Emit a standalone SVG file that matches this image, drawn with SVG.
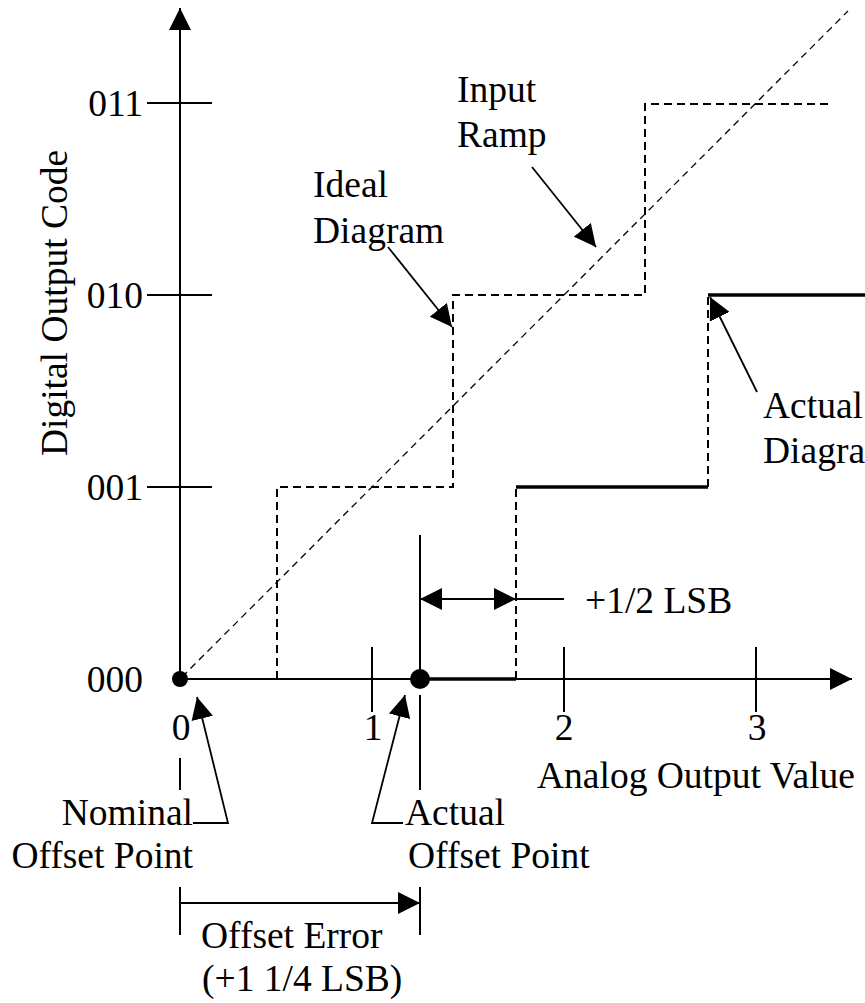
<svg xmlns="http://www.w3.org/2000/svg" width="865" height="1003" viewBox="0 0 865 1003">
<style>
text{font-family:"Liberation Serif","Times New Roman",serif;font-size:37.5px;fill:#000}
.ax{stroke:#000;stroke-width:2;fill:none}
.thin{stroke:#000;stroke-width:1.8;fill:none}
.ideal{stroke:#000;stroke-width:2;fill:none;stroke-dasharray:8 5}
.ramp{stroke:#000;stroke-width:1.3;fill:none;stroke-dasharray:7 5}
.act{stroke:#000;stroke-width:3.5;fill:none}
.actd{stroke:#000;stroke-width:2;fill:none;stroke-dasharray:8 5}
</style>
<defs>
<marker id="ah" viewBox="0 0 22 22" refX="22" refY="11" markerWidth="22" markerHeight="22" markerUnits="userSpaceOnUse" orient="auto-start-reverse">
<path d="M0,0 L22,11 L0,22 Z" fill="#000"/>
</marker>
</defs>
<g id="axes">
<line class="ax" x1="180" y1="680" x2="180" y2="8" marker-end="url(#ah)"/>
<line class="ax" x1="180" y1="679" x2="852" y2="679" marker-end="url(#ah)"/>
<line class="ax" x1="147" y1="103" x2="212" y2="103"/>
<line class="ax" x1="147" y1="295" x2="212" y2="295"/>
<line class="ax" x1="147" y1="487" x2="212" y2="487"/>
<line class="ax" x1="372" y1="647" x2="372" y2="712"/>
<line class="ax" x1="564" y1="647" x2="564" y2="712"/>
<line class="ax" x1="756" y1="647" x2="756" y2="712"/>
<text x="143" y="116" text-anchor="end">011</text>
<text x="143" y="308" text-anchor="end">010</text>
<text x="143" y="500" text-anchor="end">001</text>
<text x="143" y="692" text-anchor="end">000</text>
<text x="181" y="740" text-anchor="middle">0</text>
<text x="373" y="740" text-anchor="middle">1</text>
<text x="564" y="740" text-anchor="middle">2</text>
<text x="757" y="740" text-anchor="middle">3</text>
<text transform="translate(67,303) rotate(-90)" text-anchor="middle">Digital Output Code</text>
<text x="537" y="788">Analog Output Value</text>
</g>
<g id="input-ramp">
<line class="ramp" x1="182" y1="677" x2="848" y2="11"/>
<text x="457" y="102">Input</text>
<text x="457" y="147">Ramp</text>
</g>
<g id="ideal-diagram">
<polyline class="ideal" points="277,679 277,487 453,487 453,295 645,295 645,104 833,104"/>
<text x="313" y="197">Ideal</text>
<text x="313" y="243">Diagram</text>
</g>
<g id="actual-diagram">
<polyline class="act" points="420,679 516,679"/>
<line class="actd" x1="516" y1="679" x2="516" y2="487"/>
<polyline class="act" points="516,487 708,487"/>
<line class="actd" x1="708" y1="487" x2="708" y2="295"/>
<polyline class="act" points="708,295 870,295"/>
<text x="763" y="418">Actual</text>
<text x="763" y="463">Diagram</text>
</g>
<g id="offset-points">
<circle cx="180" cy="679" r="8" fill="#000"/>
<circle cx="420" cy="679" r="10" fill="#000"/>
<line class="ax" x1="420" y1="535" x2="420" y2="679"/>
<line class="ax" x1="420" y1="695" x2="420" y2="790"/>
<line class="ax" x1="180" y1="758" x2="180" y2="790"/>
<text x="193" y="825" text-anchor="end">Nominal</text>
<text x="193" y="868" text-anchor="end">Offset Point</text>
<text x="405" y="825">Actual</text>
<text x="408" y="868">Offset Point</text>
</g>
<g id="lsb-half">
<line class="ax" x1="420" y1="599" x2="516" y2="599" marker-start="url(#ah)" marker-end="url(#ah)"/>
<line class="ax" x1="516" y1="599" x2="564" y2="599"/>
<text x="585" y="613">+1/2 LSB</text>
</g>
<g id="offset-error">
<line class="ax" x1="180" y1="887" x2="180" y2="935"/>
<line class="ax" x1="420" y1="887" x2="420" y2="935"/>
<line class="ax" x1="180" y1="903" x2="420" y2="903" marker-end="url(#ah)"/>
<text x="201" y="948">Offset Error</text>
<text x="202" y="991">(+1 1/4 LSB)</text>
</g>
<g id="connectors">
<line class="thin" x1="532" y1="167" x2="596" y2="247" marker-end="url(#ah)"/>
<line class="thin" x1="388" y1="247" x2="452" y2="327" marker-end="url(#ah)"/>
<line class="thin" x1="757" y1="392" x2="710" y2="297" marker-end="url(#ah)"/>
<polyline class="thin" points="193,823 228,823 197,697" marker-end="url(#ah)"/>
<polyline class="thin" points="403,823 372,823 405,695" marker-end="url(#ah)"/>
</g>
</svg>
